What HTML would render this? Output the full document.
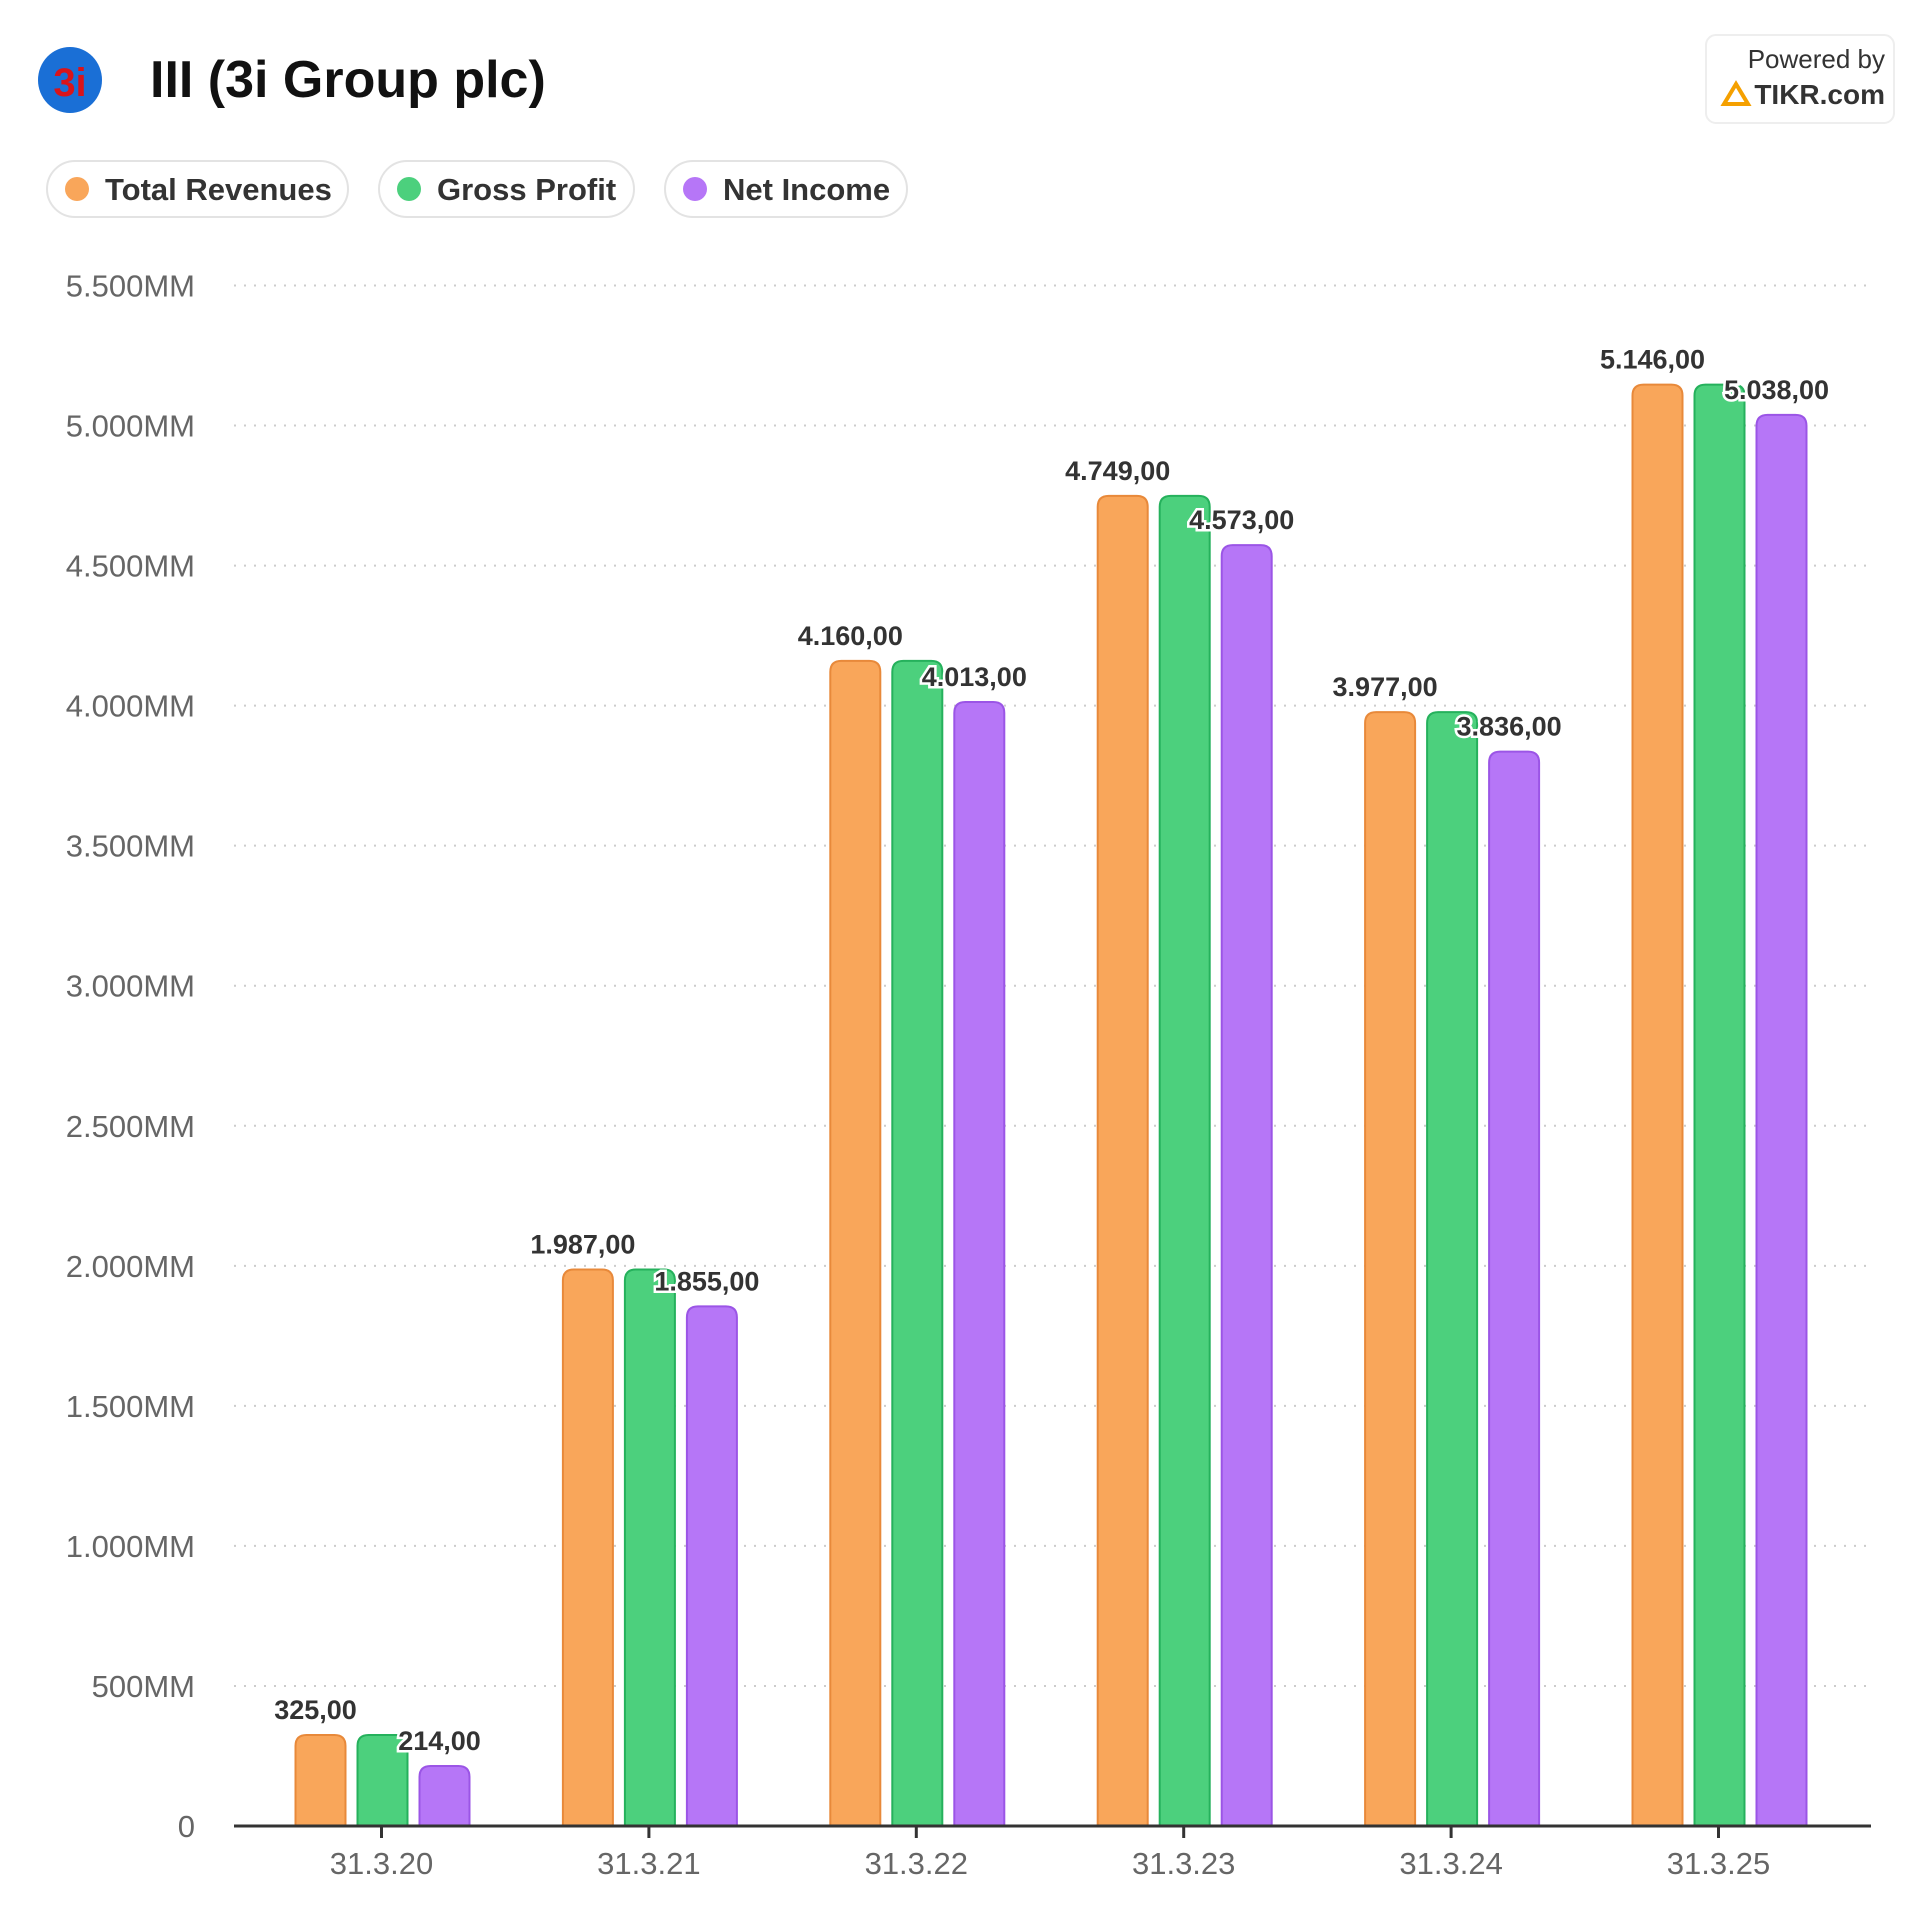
<!DOCTYPE html>
<html><head><meta charset="utf-8"><style>
html,body{margin:0;padding:0;background:#fff;}
body{width:1920px;height:1920px;overflow:hidden;font-family:"Liberation Sans",Arial,sans-serif;}
svg text{font-family:"Liberation Sans",Arial,sans-serif;}
</style></head><body>
<svg id="chart" width="1920" height="1920" viewBox="0 0 1920 1920" xmlns="http://www.w3.org/2000/svg">
  <g>
    <ellipse cx="70" cy="80" rx="32" ry="33" fill="#1a6fd6"/>
    <text x="70" y="96" text-anchor="middle" font-size="40" font-weight="bold" fill="#d9141b" font-family="Liberation Serif,serif">3i</text>
  </g>
  <text x="150" y="97" font-size="52" font-weight="bold" fill="#111">III (3i Group plc)</text>
  <g>
    <rect x="1706" y="35" width="188" height="88" rx="10" fill="#fff" stroke="#eee" stroke-width="2"/>
    <text x="1885" y="68" text-anchor="end" font-size="26" fill="#333">Powered by</text>
    <path d="M1724 104 L1736 84 L1748 104 Z" fill="none" stroke="#f5a000" stroke-width="4"/>
    <text x="1885" y="104" text-anchor="end" font-size="28" font-weight="bold" fill="#333">TIKR.com</text>
  </g>
  <g>
    <g>
      <rect x="47" y="161" width="301" height="56" rx="28" fill="#fff" stroke="#e3e3e3" stroke-width="2"/>
      <circle cx="77" cy="189" r="12" fill="#F9A65A"/>
      <text x="105" y="200" font-size="31" font-weight="bold" fill="#333">Total Revenues</text>
    </g>
    <g>
      <rect x="379" y="161" width="255" height="56" rx="28" fill="#fff" stroke="#e3e3e3" stroke-width="2"/>
      <circle cx="409" cy="189" r="12" fill="#4CD07D"/>
      <text x="437" y="200" font-size="31" font-weight="bold" fill="#333">Gross Profit</text>
    </g>
    <g>
      <rect x="665" y="161" width="242" height="56" rx="28" fill="#fff" stroke="#e3e3e3" stroke-width="2"/>
      <circle cx="695" cy="189" r="12" fill="#B676F7"/>
      <text x="723" y="200" font-size="31" font-weight="bold" fill="#333">Net Income</text>
    </g>
  </g>
  <g id="grid"></g><g id="bars"></g><g id="labels"></g><g id="axes"></g>
</svg>
<script>
const categories = ["31.3.20","31.3.21","31.3.22","31.3.23","31.3.24","31.3.25"];
const revenues = [325,1987,4160,4749,3977,5146];
const grossProfit = [325,1987,4160,4749,3977,5146];
const netIncome = [214,1855,4013,4573,3836,5038];
const yTicks = [0,500,1000,1500,2000,2500,3000,3500,4000,4500,5000,5500];
const yTickLabels = ["0","500MM","1.000MM","1.500MM","2.000MM","2.500MM","3.000MM","3.500MM","4.000MM","4.500MM","5.000MM","5.500MM"];
const revLabels = ["325,00","1.987,00","4.160,00","4.749,00","3.977,00","5.146,00"];
const netLabels = ["214,00","1.855,00","4.013,00","4.573,00","3.836,00","5.038,00"];

const NS="http://www.w3.org/2000/svg";
const y0=1826, yTop=285.5, maxV=5500, left=234, right=1871;
const yScale=v=>y0-(v/maxV)*(y0-yTop);
const step=267.4, firstX=381.5;
const xCenter=i=>firstX+step*i;
function mk(tag,attrs,parent){const e=document.createElementNS(NS,tag);for(const k in attrs)e.setAttribute(k,attrs[k]);parent.appendChild(e);return e;}
const grid=document.getElementById('grid'),bars=document.getElementById('bars'),labels=document.getElementById('labels'),axes=document.getElementById('axes');
yTicks.forEach((v,i)=>{
  const y=yScale(v);
  if(v>0){const l=mk('line',{x1:left,x2:right,y1:y,y2:y,stroke:'#ccc','stroke-width':2,'stroke-dasharray':'2 8'},grid);
  
  }
  const t=mk('text',{x:195,y:y+11,'text-anchor':'end','font-size':31,fill:'#666'},axes);
  t.textContent=yTickLabels[i];
  
  
});
const base=mk('line',{x1:left,x2:right,y1:y0,y2:y0,stroke:'#333','stroke-width':3},axes);


const series=[{d:revenues,f:'#F9A65A',s:'#E8893A',o:-61,n:'revenue'},{d:grossProfit,f:'#4CD07D',s:'#25B15C',o:1,n:'gross-profit'},{d:netIncome,f:'#B676F7',s:'#9B55E6',o:63,n:'net-income'}];
const bw=50,r=11;
categories.forEach((c,i)=>{
  const cx=xCenter(i);
  series.forEach(s=>{
    const x=cx+s.o-bw/2, y=yScale(s.d[i]);
    const p=mk('path',{d:`M${x},${y0} L${x},${y+r} Q${x},${y} ${x+r},${y} L${x+bw-r},${y} Q${x+bw},${y} ${x+bw},${y+r} L${x+bw},${y0}`,fill:s.f,stroke:s.s,'stroke-width':2},bars);
    
    
  });
  const tk=mk('line',{x1:cx,x2:cx,y1:y0,y2:y0+12,stroke:'#333','stroke-width':3},axes);
  
  
  const xt=mk('text',{x:cx,y:y0+48,'text-anchor':'middle','font-size':31,fill:'#666'},axes);
  xt.textContent=c;
  
  
  [[revLabels,revenues,-66],[netLabels,netIncome,58]].forEach(([lb,d,o])=>{
    const t=mk('text',{x:cx+o,y:yScale(d[i])-16,'text-anchor':'middle','font-size':27,'font-weight':'bold',fill:'#333',stroke:'#fff','stroke-width':5,'paint-order':'stroke'},labels);
    t.textContent=lb[i];
    
    
  });
});
</script>
</body></html>
